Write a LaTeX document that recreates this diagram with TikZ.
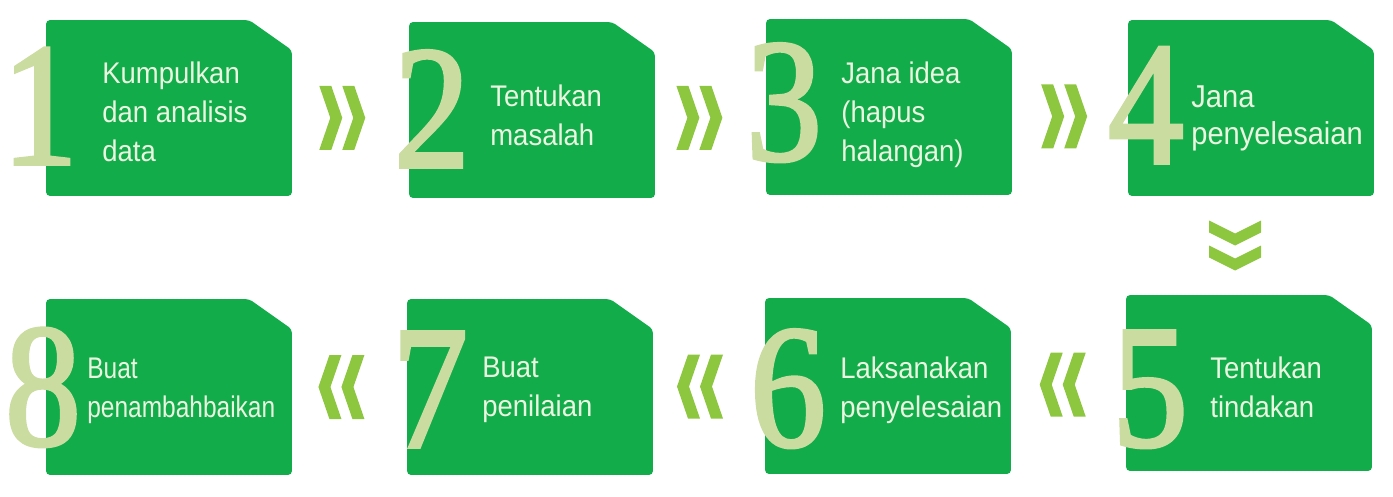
\documentclass[tikz,border=0pt]{standalone}
\usepackage{fontspec}
\usepackage{xcolor}
\usepackage{tikz}
\usetikzlibrary{positioning,calc}
\newfontfamily\cardfont[FakeStretch=0.92]{Liberation Sans}
\newfontfamily\cardfontnarrow[FakeStretch=0.82]{Liberation Sans}
\newfontfamily\numfont[FakeStretch=0.86,FakeBold=2]{Liberation Serif}
\definecolor{cardgreen}{RGB}{18,172,75}
\definecolor{numpale}{RGB}{202,220,160}
\definecolor{textpale}{RGB}{234,246,224}
\definecolor{chevgreen}{RGB}{141,198,63}
\tikzset{
  cardslot/.style={rectangle,minimum width=4.9cm,minimum height=3.5cm,inner sep=0pt},
  cardbox/.style={fill=cardgreen,rounded corners=2pt},
  numeral/.style={font=\numfont\fontsize{100}{100}\selectfont,text=numpale,inner sep=0pt,anchor=base},
  steptext/.style={font=\cardfont\fontsize{17}{22}\selectfont,text=textpale,align=left,inner sep=0pt,anchor=north west},
  chevron/.style={fill=chevgreen}
}

\begin{document}
\begin{tikzpicture}[x=0.02cm,y=-0.02cm]
  \useasboundingbox (0,0) rectangle (1393,497);
  % kad langkah
  \node[cardslot] (c1) at (169,108) {};
  \node[cardslot] (c2) at (532,110) {};
  \node[cardslot] (c3) at (889,107) {};
  \node[cardslot] (c4) at (1251,108) {};
  \node[cardslot] (c5) at (1249,383) {};
  \node[cardslot] (c6) at (888,386) {};
  \node[cardslot] (c7) at (530,387) {};
  \node[cardslot] (c8) at (169,387) {};
  \foreach \i in {1,...,8}
    \fill[cardbox] (c\i.south west) -- (c\i.north west) -- ([xshift=-0.85cm]c\i.north east)
      -- ([yshift=-0.6cm]c\i.north east) -- (c\i.south east) -- cycle;
  % nombor besar
  \node[numeral] (n1) at (40,164) {1};
  \node[numeral] (n2) at (432,167) {2};
  \node[numeral] (n3) at (784,160) {3};
  \node[numeral] (n4) at (1146,163) {4};
  \node[numeral] (n5) at (1150,446) {5};
  \node[numeral] (n6) at (788,446) {6};
  \node[numeral] (n7) at (430,447) {7};
  \node[numeral] (n8) at (43,445) {8};
  % teks
  \node[steptext] (t1) at (102,62) {Kumpulkan\\dan analisis\\data};
  \node[steptext] (t2) at (490,85) {Tentukan\\masalah};
  \node[steptext] (t3) at (841,62) {Jana idea\\(hapus\\halangan)};
  \node[steptext,font=\cardfont\fontsize{18}{21.5}\selectfont] (t4) at (1191,85) {Jana\\penyelesaian};
  \node[steptext] (t5) at (1210,357) {Tentukan\\tindakan};
  \node[steptext] (t6) at (840,357) {Laksanakan\\penyelesaian};
  \node[steptext] (t7) at (482,357) {Buat\\penilaian};
  \node[steptext,font=\cardfontnarrow\fontsize{17}{22}\selectfont] (t8) at (87,358) {Buat\\penambahbaikan};
  % anak panah
  \path ([yshift=-0.18cm]c1.east) -- ([yshift=-0.18cm]c2.west) coordinate[pos=0.43] (a12);
  \path ([yshift=-0.18cm]c2.east) -- ([yshift=-0.18cm]c3.west) coordinate[pos=0.40] (a23);
  \path ([yshift=-0.18cm]c3.east) -- ([yshift=-0.18cm]c4.west) coordinate[pos=0.45] (a34);
  \path ([xshift=-0.3cm]c4.south) -- ([xshift=-0.3cm]c5.north) coordinate[midway] (a45);
  \path (c5.west) -- (c6.east) coordinate[pos=0.55] (a56);
  \path (c6.west) -- (c7.east) coordinate[pos=0.58] (a67);
  \path (c7.west) -- (c8.east) coordinate[pos=0.57] (a78);
  \foreach \a in {a12,a23,a34}
    \fill[chevron] (\a) ++(-23,-32) -- ++(12,0) -- ++(11,32) -- ++(-11,32) -- ++(-12,0) -- ++(11,-32) -- cycle
      (\a) ++(0,-32) -- ++(12,0) -- ++(11,32) -- ++(-11,32) -- ++(-12,0) -- ++(11,-32) -- cycle;
  \foreach \a in {a56,a67,a78}
    \fill[chevron] (\a) ++(23,-32) -- ++(-12,0) -- ++(-11,32) -- ++(11,32) -- ++(12,0) -- ++(-11,-32) -- cycle
      (\a) ++(0,-32) -- ++(-12,0) -- ++(-11,32) -- ++(11,32) -- ++(12,0) -- ++(-11,-32) -- cycle;
  \fill[chevron] (a45) ++(-26,-25) -- ++(0,12) -- ++(26,13) -- ++(26,-13) -- ++(0,-12) -- ++(-26,13) -- cycle
    (a45) ++(-26,0) -- ++(0,12) -- ++(26,13) -- ++(26,-13) -- ++(0,-12) -- ++(-26,13) -- cycle;
\end{tikzpicture}
\end{document}
